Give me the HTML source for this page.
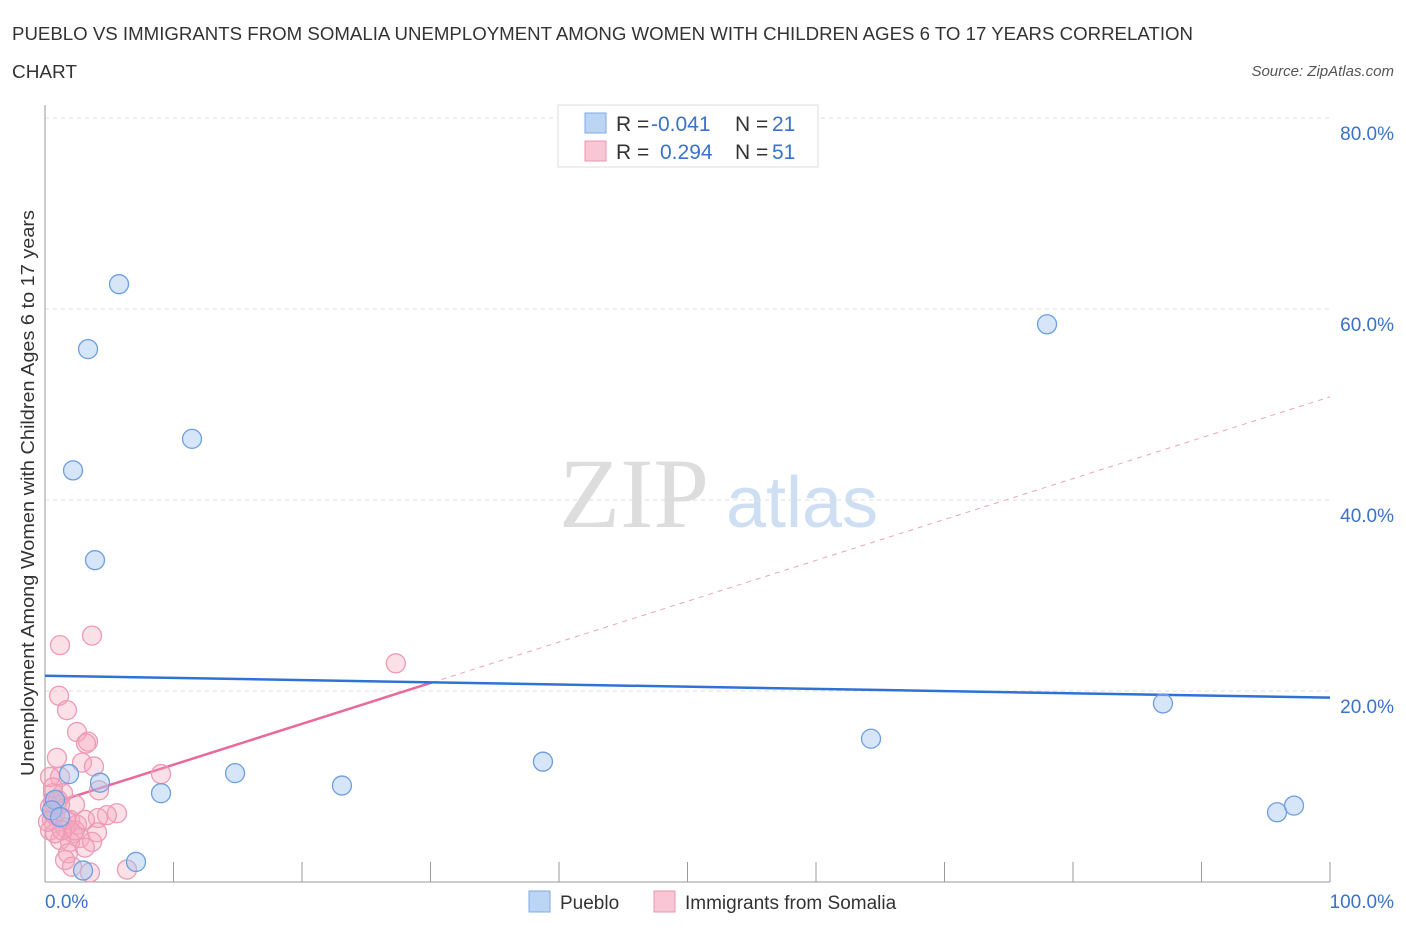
<!DOCTYPE html>
<html><head><meta charset="utf-8"><style>
body{margin:0;background:#fff;font-family:"Liberation Sans",sans-serif}
svg text{font-family:"Liberation Sans",sans-serif}
</style></head><body>
<svg id="c" width="1406" height="930" xmlns="http://www.w3.org/2000/svg">
<text x="12" y="40" font-size="18" fill="#333" textLength="1181" lengthAdjust="spacingAndGlyphs">PUEBLO VS IMMIGRANTS FROM SOMALIA UNEMPLOYMENT AMONG WOMEN WITH CHILDREN AGES 6 TO 17 YEARS CORRELATION</text>
<text x="12" y="78" font-size="18" fill="#333" textLength="65" lengthAdjust="spacingAndGlyphs">CHART</text>
<text x="1394" y="76" font-size="15" fill="#555" font-style="italic" text-anchor="end">Source: ZipAtlas.com</text>
<text x="634" y="527" font-size="100" fill="#ddd" style="font-family:'Liberation Serif',serif" text-anchor="middle">ZIP</text>
<text x="802" y="527" font-size="72" fill="#cfdff3" text-anchor="middle">atlas</text>
<g id="grid"></g><g id="ax"></g><g id="trend"></g><g id="pts"></g>
<text transform="translate(34,493) rotate(-90)" font-size="18" fill="#333" text-anchor="middle" textLength="566" lengthAdjust="spacingAndGlyphs">Unemployment Among Women with Children Ages 6 to 17 years</text>
<g>
<rect x="558" y="105" width="260" height="62" fill="#fff" stroke="#ddd"/>
<rect x="585" y="113" width="21" height="20" fill="#bcd5f5" stroke="#7fa9e3"/>
<text x="616" y="131" font-size="21" fill="#333">R = </text><text x="651" y="131" font-size="21" fill="#3a72c9">-0.041</text>
<text x="735" y="131" font-size="21" fill="#333">N = </text><text x="772" y="131" font-size="21" fill="#3a72c9">21</text>
<rect x="585" y="141" width="21" height="20" fill="#f9c6d5" stroke="#e895b0"/>
<text x="616" y="159" font-size="21" fill="#333">R = </text><text x="660" y="159" font-size="21" fill="#3a72c9">0.294</text>
<text x="735" y="159" font-size="21" fill="#333">N = </text><text x="772" y="159" font-size="21" fill="#3a72c9">51</text>
</g>
<g>
<rect x="529" y="891" width="21" height="21" fill="#bcd5f5" stroke="#7fa9e3"/>
<text x="560" y="909" font-size="19" fill="#333">Pueblo</text>
<rect x="654" y="891" width="21" height="21" fill="#f9c6d5" stroke="#e895b0"/>
<text x="685" y="909" font-size="19" fill="#333">Immigrants from Somalia</text>
</g>
</svg>
<script>
const yTicks=[20,40,60,80];
const yTickLabels=["20.0%","40.0%","60.0%","80.0%"];
const xTickLabels=["0.0%","100.0%"];
const puebloX=[5.76,3.35,11.44,2.18,3.89,77.98,87.0,64.28,38.75,14.79,23.11,9.03,4.28,1.87,95.88,97.2,7.08,2.96,0.78,0.54,1.17];
const puebloY=[62.6,55.8,46.4,43.1,33.7,58.4,18.7,15.0,12.6,11.4,10.1,9.3,10.4,11.3,7.3,8.0,2.1,1.2,8.6,7.5,6.8];
const somX=[1.17,3.66,1.09,1.71,2.49,3.35,3.19,0.93,2.88,3.81,1.17,9.03,27.3,4.2,0.62,0.62,0.39,0.62,2.33,5.6,4.82,4.12,0.54,1.95,2.49,1.56,4.05,2.18,1.17,2.72,3.66,1.95,3.11,1.79,1.56,2.1,3.5,6.38,0.39,0.39,0.62,1.4,0.78,1.17,1.63,1.01,1.32,2.33,0.78,3.11,0.23];
const somY=[24.8,25.8,19.5,18.0,15.7,14.7,14.5,13.0,12.5,12.1,11.0,11.3,22.9,9.6,9.3,8.4,7.9,7.2,8.1,7.2,7.0,6.7,6.5,6.5,6.0,5.7,5.2,5.1,4.4,4.6,4.2,4.2,3.6,3.0,2.3,1.6,1.0,1.3,5.4,11.0,9.9,9.3,7.0,8.1,6.5,8.6,5.4,5.4,5.1,6.5,6.3];
const puebloTrend=[21.6,19.3];
const somTrend=[8.0,50.8];
const somSolidEnd=30.1;
const X=v=>45+v*12.85, Y=v=>882-v*9.55;
const NS="http://www.w3.org/2000/svg";
function mk(p,t,a){const e=document.createElementNS(NS,t);for(const k in a)e.setAttribute(k,a[k]);document.getElementById(p).appendChild(e);return e;}
yTicks.forEach((t,i)=>{
 let l=mk('grid','line',{x1:45,x2:1330,y1:Y(t),y2:Y(t),stroke:'#ddd','stroke-dasharray':'4,4'});
 
 
 let tx=mk('grid','text',{x:1394,y:Y(t)+22,'font-size':19,fill:'#3a72c9','text-anchor':'end'});tx.textContent=yTickLabels[i];
 
 
});
let a1=mk('ax','line',{x1:45,x2:45,y1:105,y2:882,stroke:'#999'});


let a2=mk('ax','line',{x1:45,x2:1330,y1:882,y2:882,stroke:'#999'});


for(let i=0;i<=10;i++){let t=mk('ax','line',{x1:X(i*10),x2:X(i*10),y1:862,y2:882,stroke:'#999'});
 
 }
[[0,'start',45],[100,'end',1394]].forEach((d,i)=>{let t=mk('ax','text',{x:d[2],y:908,'font-size':19,fill:'#3a72c9','text-anchor':d[1]});t.textContent=xTickLabels[i];
 
 });
somX.forEach((x,i)=>{let c=mk('pts','circle',{cx:X(x),cy:Y(somY[i]),r:9.5,fill:'rgba(245,165,190,0.35)',stroke:'#ec9ab5','stroke-width':1.3});
 
 });
puebloX.forEach((x,i)=>{let c=mk('pts','circle',{cx:X(x),cy:Y(puebloY[i]),r:9.5,fill:'rgba(165,198,240,0.45)',stroke:'#6d9fe0','stroke-width':1.3});
 
 });
const sv=x=>somTrend[0]+(somTrend[1]-somTrend[0])*x/100;
let d1=mk('trend','line',{x1:X(somSolidEnd),y1:Y(sv(somSolidEnd)),x2:X(100),y2:Y(sv(100)),stroke:'#eea2bb','stroke-dasharray':'5,5','stroke-width':1});


let d2=mk('trend','line',{x1:X(0),y1:Y(sv(0)),x2:X(somSolidEnd),y2:Y(sv(somSolidEnd)),stroke:'#e8699a','stroke-width':2.5});


let d3=mk('trend','line',{x1:X(0),y1:Y(puebloTrend[0]),x2:X(100),y2:Y(puebloTrend[1]),stroke:'#2f72d6','stroke-width':2.5});


</script>
</body></html>
